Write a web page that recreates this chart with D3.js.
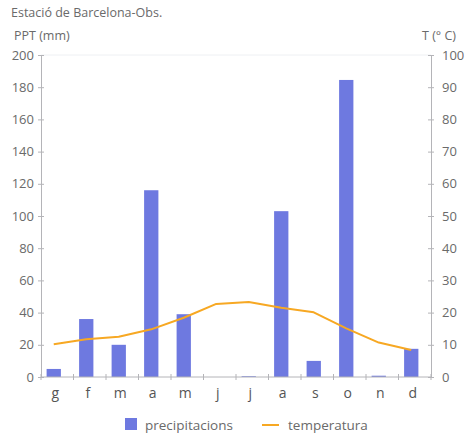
<!DOCTYPE html>
<html>
<head>
<meta charset="utf-8">
<script src="https://cdn.jsdelivr.net/npm/d3@7"></script>
<style>
  body { margin: 0; background: #fff; }
  svg text { font-family: "Open Sans", "Noto Sans", sans-serif; fill: #6a6a6a; }
</style>
</head>
<body>
<svg id="chart" width="474" height="437"></svg>
<script>
var months = ["g", "f", "m", "a", "m", "j", "j", "a", "s", "o", "n", "d"];
var precipitation = [5, 36, 20, 116, 39, 0, 0.5, 103, 10, 184.5, 0.8, 17.5];
var temperature = [10.2, 11.7, 12.5, 14.8, 18.4, 22.7, 23.3, 21.5, 20.1, 15.1, 10.7, 8.4];
var pptTicks = [0, 20, 40, 60, 80, 100, 120, 140, 160, 180, 200];
var tempTicks = [0, 10, 20, 30, 40, 50, 60, 70, 80, 90, 100];

var plotLeft = 41, plotRight = 431, plotTop = 55, plotBottom = 377;
var axisColor = "#b4b4b8";

var svg = d3.select("#chart");

var x = d3.scaleBand()
    .domain(d3.range(months.length))
    .range([plotLeft, plotRight])
    .paddingInner(0.56)
    .paddingOuter(0.28);

var yP = d3.scaleLinear().domain([0, 200]).range([plotBottom, plotTop]);
var yT = d3.scaleLinear().domain([0, 100]).range([plotBottom, plotTop]);

// faint top frame
svg.append("line")
    .attr("x1", plotLeft).attr("x2", plotRight)
    .attr("y1", plotTop).attr("y2", plotTop)
    .attr("stroke", "#eef0f3").attr("stroke-width", 1);

// marks, nudged a bit left like the original
var marks = svg.append("g").attr("transform", "translate(-3.5,0)");

marks.selectAll(".bar")
    .data(precipitation)
    .enter().append("rect")
    .attr("class", "bar")
    .attr("x", function (d, i) { return x(i); })
    .attr("width", x.bandwidth())
    .attr("y", function (d) { return yP(d); })
    .attr("height", function (d) { return plotBottom - yP(d); })
    .attr("fill", "#6e79e0");

var line = d3.line()
    .x(function (d, i) { return x(i) + x.bandwidth() / 2; })
    .y(function (d) { return yT(d); });

marks.append("path")
    .datum(temperature)
    .attr("d", line)
    .attr("fill", "none")
    .attr("stroke", "#f7a823")
    .attr("stroke-width", 2)
    .attr("stroke-linejoin", "round");

// left axis
var leftAxis = svg.append("g")
    .attr("transform", "translate(" + plotLeft + ",0)")
    .call(d3.axisLeft(yP).tickValues(pptTicks).tickSize(3).tickPadding(4));
leftAxis.selectAll(".tick line").attr("x2", 3).attr("x1", -3);

// right axis
var rightAxis = svg.append("g")
    .attr("transform", "translate(" + plotRight + ",0)")
    .call(d3.axisRight(yT).tickValues(tempTicks).tickSize(3).tickPadding(8));
rightAxis.selectAll(".tick line").attr("x1", -3).attr("x2", 3);

// bottom axis: ticks between months
var boundaries = d3.range(months.length + 1).map(function (i) {
    return plotLeft + i * (plotRight - plotLeft) / months.length;
});
var bottomAxis = svg.append("g");
bottomAxis.append("line")
    .attr("x1", plotLeft).attr("x2", plotRight)
    .attr("y1", plotBottom).attr("y2", plotBottom)
    .attr("stroke", axisColor);
bottomAxis.selectAll(".btick")
    .data(boundaries)
    .enter().append("line")
    .attr("x1", function (d) { return d; })
    .attr("x2", function (d) { return d; })
    .attr("y1", plotBottom - 3).attr("y2", plotBottom + 3)
    .attr("stroke", axisColor);
bottomAxis.selectAll(".mlabel")
    .data(months)
    .enter().append("text")
    .attr("x", function (d, i) { return x(i) + x.bandwidth() / 2 - 2; })
    .attr("y", plotBottom + 21)
    .attr("text-anchor", "middle")
    .style("font-size", "14px")
    .style("fill", "#555")
    .text(function (d) { return d; });

[leftAxis, rightAxis].forEach(function (a) {
    a.select(".domain").attr("stroke", axisColor);
    a.selectAll(".tick line").attr("stroke", axisColor);
    a.selectAll(".tick text").style("font-size", "13px").style("fill", "#6a6a6a");
});

// titles
svg.append("text").attr("x", 11).attr("y", 17)
    .style("font-size", "12.5px").text("Estació de Barcelona-Obs.");
svg.append("text").attr("x", 14).attr("y", 40)
    .style("font-size", "12.5px").text("PPT (mm)");
svg.append("text").attr("x", 456).attr("y", 40)
    .attr("text-anchor", "end")
    .style("font-size", "12.5px").text("T (° C)");

// legend
var legend = svg.append("g");
legend.append("rect")
    .attr("x", 125).attr("y", 418).attr("width", 12).attr("height", 12)
    .attr("fill", "#6e79e0");
legend.append("text").attr("x", 145).attr("y", 430)
    .style("font-size", "13.5px").text("precipitacions");
legend.append("line")
    .attr("x1", 262).attr("x2", 279).attr("y1", 425).attr("y2", 425)
    .attr("stroke", "#f7a823").attr("stroke-width", 2);
legend.append("text").attr("x", 288).attr("y", 430)
    .style("font-size", "13.5px").text("temperatura");
</script>
</body>
</html>
